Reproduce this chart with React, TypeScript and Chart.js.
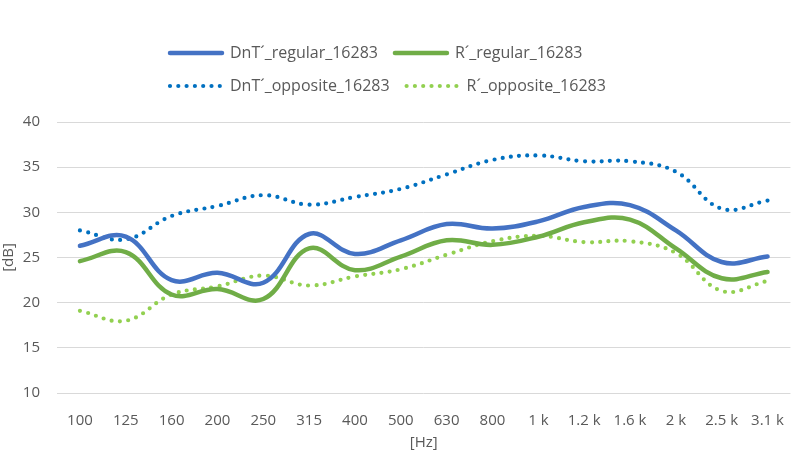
import React, { useEffect, useRef } from "react";
import { Chart, registerables } from "chart.js";

Chart.register(...registerables);

// Third-octave band centres
const bands: string[] = [
  "100", "125", "160", "200", "250", "315", "400", "500",
  "630", "800", "1 k", "1.2 k", "1.6 k", "2 k", "2.5 k", "3.1 k",
];

// Measured levels in dB per band
const dntRegular: number[] = [26.3, 27.3, 22.5, 23.3, 22.2, 27.6, 25.4, 26.9, 28.7, 28.2, 29.0, 30.6, 30.8, 28.0, 24.5, 25.1];
const rRegular: number[] = [24.6, 25.6, 20.9, 21.5, 20.4, 26.0, 23.6, 25.1, 26.9, 26.4, 27.3, 28.9, 29.2, 26.0, 22.7, 23.4];
const dntOpposite: number[] = [28.0, 27.0, 29.6, 30.7, 31.9, 30.85, 31.7, 32.6, 34.2, 35.8, 36.3, 35.65, 35.65, 34.5, 30.4, 31.3];
const rOpposite: number[] = [19.1, 18.0, 20.9, 21.8, 23.0, 21.9, 22.9, 23.7, 25.3, 26.8, 27.4, 26.7, 26.8, 25.5, 21.3, 22.4];

const seriesNames: string[] = [
  "DnT´_regular_16283",
  "R´_regular_16283",
  "DnT´_opposite_16283",
  "R´_opposite_16283",
];

const TEXT = "#595959";
const FONT = "'Open Sans', 'DejaVu Sans', sans-serif";

// Two legend entries per row, extra space under the legend, rows start at a common x
const legendLayout = {
  id: "legendLayout",
  beforeLayout(chart: any) {
    const lg = chart.legend;
    if (lg && !lg.__patched) {
      const orig = lg.fit.bind(lg);
      lg.fit = function () {
        this.maxWidth = Math.min(this.maxWidth, 500);
        orig();
        this.height += 18;
      };
      lg.__patched = true;
    }
  },
  afterLayout(chart: any) {
    const lg = chart.legend;
    if (lg) {
      lg.left = 153;
      lg.right = 700;
      lg.width = lg.right - lg.left;
    }
  },
};

export default function App() {
  const canvasRef = useRef<HTMLCanvasElement | null>(null);

  useEffect(() => {
    if (!canvasRef.current) return;
    Chart.defaults.font.family = FONT;
    const solid = (label: string, data: number[], color: string) => ({
      label,
      data,
      borderColor: color,
      backgroundColor: color,
      borderWidth: 4.5,
      borderDash: [] as number[],
      borderCapStyle: "round" as const,
      pointRadius: 0,
      tension: 0.4,
      fill: false,
    });
    const dotted = (label: string, data: number[], color: string) => ({
      label,
      data,
      borderColor: color,
      backgroundColor: color,
      borderWidth: 4.2,
      borderDash: [0, 8.3],
      borderCapStyle: "round" as const,
      pointRadius: 0,
      tension: 0.4,
      fill: false,
    });

    const chart = new Chart(canvasRef.current, {
      type: "line",
      data: {
        labels: bands,
        datasets: [
          solid(seriesNames[0], dntRegular, "#4472C4"),
          solid(seriesNames[1], rRegular, "#70AD47"),
          dotted(seriesNames[2], dntOpposite, "#0070C0"),
          dotted(seriesNames[3], rOpposite, "#92D050"),
        ],
      },
      options: {
        animation: false,
        responsive: true,
        maintainAspectRatio: false,
        layout: { padding: { top: 28, left: 0, right: 1, bottom: 0 } },
        plugins: {
          tooltip: { enabled: false },
          legend: {
            position: "top",
            align: "start",
            labels: {
              color: TEXT,
              font: { size: 16, family: FONT },
              usePointStyle: true,
              pointStyleWidth: 52,
              padding: 17,
              generateLabels(c: any) {
                return c.data.datasets.map((ds: any, i: number) => ({
                  text: ds.label,
                  fillStyle: ds.borderColor,
                  strokeStyle: ds.borderColor,
                  lineWidth: ds.borderWidth,
                  lineDash: ds.borderDash,
                  lineCap: "round",
                  pointStyle: "line",
                  fontColor: TEXT,
                  hidden: false,
                  datasetIndex: i,
                }));
              },
            },
          },
        },
        scales: {
          x: {
            offset: true,
            grid: { display: false },
            border: { display: false },
            ticks: {
              color: TEXT,
              font: { size: 15, family: FONT },
              padding: 11,
              maxRotation: 0,
              autoSkip: false,
            },
            title: {
              display: true,
              text: "[Hz]",
              color: TEXT,
              font: { size: 15, family: FONT },
              padding: { top: 4, bottom: 4 },
            },
            afterFit(scale: any) {
              scale.height = 63;
            },
          },
          y: {
            min: 10,
            max: 40,
            grid: { color: "#D9D9D9", lineWidth: 1, drawTicks: false },
            border: { display: false },
            ticks: {
              stepSize: 5,
              color: TEXT,
              font: { size: 15, family: FONT },
              padding: 17,
            },
            title: {
              display: true,
              text: "[dB]",
              color: TEXT,
              font: { size: 15, family: FONT },
              padding: { top: 0, bottom: 0 },
            },
            afterFit(scale: any) {
              scale.width = 57;
            },
          },
        },
      },
      plugins: [legendLayout],
    });
    return () => chart.destroy();
  }, []);

  return (
    <div style={{ position: "absolute", left: 0, top: 0, width: 795, height: 456, background: "#fff" }}>
      <canvas ref={canvasRef} />
    </div>
  );
}
